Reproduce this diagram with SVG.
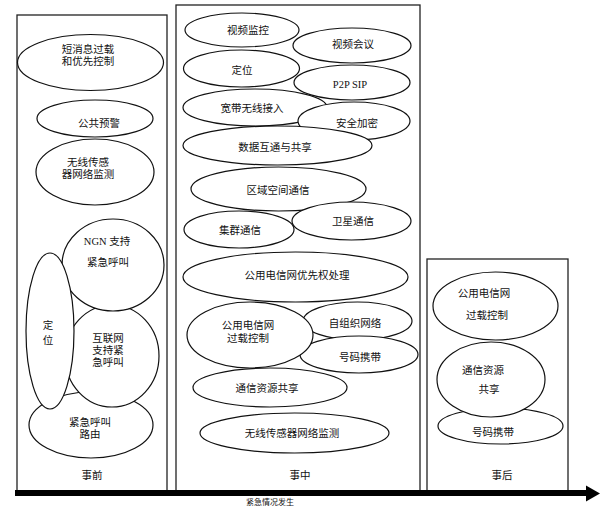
<svg xmlns="http://www.w3.org/2000/svg" width="610" height="506" viewBox="0 0 610 506">
<style>
.box{fill:none;stroke:#222;stroke-width:1.3}
.n ellipse{fill:#fff;stroke:#111;stroke-width:1.2}
text{font-family:"Liberation Serif","Noto Sans CJK SC",serif;font-size:10.5px;fill:#111;text-anchor:middle}
.cap{font-size:8px}
</style>
<rect width="610" height="506" fill="#fff"/>
<g id="phases">
<rect class="box" x="17" y="15" width="150" height="478"/>
<rect class="box" x="176" y="5" width="244" height="488"/>
<rect class="box" x="427" y="259" width="141" height="234"/>
<text x="92" y="479">事前</text>
<text x="300" y="479">事中</text>
<text x="502" y="479">事后</text>
</g>
<g id="connectors">
<line x1="15" y1="493" x2="589" y2="493" stroke="#000" stroke-width="6"/>
<polygon points="586,485.5 600,493.5 586,501.5" fill="#000"/>
<text class="cap" x="270" y="504.5">紧急情况发生</text>
</g>
<!-- left column -->
<g id="l1" class="n"><ellipse cx="90.5" cy="62.5" rx="73" ry="28"/><text x="88" y="53">短消息过载</text><text x="88" y="65">和优先控制</text></g>
<g id="l3" class="n"><ellipse cx="95" cy="172" rx="59" ry="33"/><text x="88" y="166">无线传感</text><text x="88" y="178">器网络监测</text></g>
<g id="l2" class="n"><ellipse cx="95" cy="118.5" rx="58" ry="18.5"/><text x="99" y="127">公共预警</text></g>
<g id="l7" class="n"><ellipse cx="91" cy="425" rx="62" ry="33"/><text x="90" y="426">紧急呼叫</text><text x="90" y="438">路由</text></g>
<g id="l5" class="n"><ellipse cx="112" cy="356" rx="47" ry="51"/><text x="108" y="342">互联网</text><text x="108" y="354">支持紧</text><text x="108" y="366">急呼叫</text></g>
<g id="l4" class="n"><ellipse cx="113" cy="265" rx="51" ry="46"/><text x="107" y="245">NGN 支持</text><text x="108" y="266">紧急呼叫</text></g>
<g id="l6" class="n"><ellipse cx="50" cy="331" rx="24" ry="78"/><text x="48" y="329">定</text><text x="48" y="344">位</text></g>
<!-- middle column -->
<g id="m1" class="n"><ellipse cx="242" cy="30" rx="57" ry="17"/><text x="248" y="34">视频监控</text></g>
<g id="m2" class="n"><ellipse cx="352" cy="45.5" rx="59" ry="17.5"/><text x="353" y="48">视频会议</text></g>
<g id="m3" class="n"><ellipse cx="241.5" cy="68.5" rx="58" ry="18.5"/><text x="242" y="74">定位</text></g>
<g id="m4" class="n"><ellipse cx="352" cy="82.5" rx="58" ry="17.5"/><text x="350" y="88">P2P SIP</text></g>
<g id="m5" class="n"><ellipse cx="255" cy="107.5" rx="72" ry="18.5"/><text x="252" y="112">宽带无线接入</text></g>
<g id="m6" class="n"><ellipse cx="354" cy="121" rx="56" ry="19"/><text x="357" y="127">安全加密</text></g>
<g id="m7" class="n"><ellipse cx="277.5" cy="145.5" rx="94.5" ry="19.5"/><text x="275" y="151">数据互通与共享</text></g>
<g id="m8" class="n"><ellipse cx="278.5" cy="189" rx="87.5" ry="22"/><text x="278" y="194">区域空间通信</text></g>
<g id="m9" class="n"><ellipse cx="351.5" cy="221" rx="59.5" ry="19"/><text x="353" y="225">卫星通信</text></g>
<g id="m10" class="n"><ellipse cx="239" cy="229.5" rx="55" ry="18.5"/><text x="240" y="234">集群通信</text></g>
<g id="m11" class="n"><ellipse cx="295.5" cy="277" rx="112.5" ry="25"/><text x="297" y="279">公用电信网优先权处理</text></g>
<g id="m13" class="n"><ellipse cx="357.5" cy="321" rx="54.5" ry="19"/><text x="355" y="327">自组织网络</text></g>
<g id="m14" class="n"><ellipse cx="359" cy="354.5" rx="59" ry="18.5"/><text x="360" y="361">号码携带</text></g>
<g id="m12" class="n"><ellipse cx="250" cy="335" rx="63" ry="33"/><text x="248" y="329">公用电信网</text><text x="248" y="342">过载控制</text></g>
<g id="m15" class="n"><ellipse cx="270" cy="387.5" rx="77" ry="19.5"/><text x="267" y="392">通信资源共享</text></g>
<g id="m16" class="n"><ellipse cx="294.5" cy="433" rx="94.5" ry="20"/><text x="292" y="437">无线传感器网络监测</text></g>
<!-- right column -->
<g id="r1" class="n"><ellipse cx="495.5" cy="306" rx="62.5" ry="34"/><text x="484" y="297">公用电信网</text><text x="487" y="319">过载控制</text></g>
<g id="r3" class="n"><ellipse cx="500.5" cy="426" rx="62.5" ry="18"/><text x="493" y="436">号码携带</text></g>
<g id="r2" class="n"><ellipse cx="491" cy="379.5" rx="54" ry="37.5"/><text x="483" y="374">通信资源</text><text x="489" y="393">共享</text></g>
</svg>
